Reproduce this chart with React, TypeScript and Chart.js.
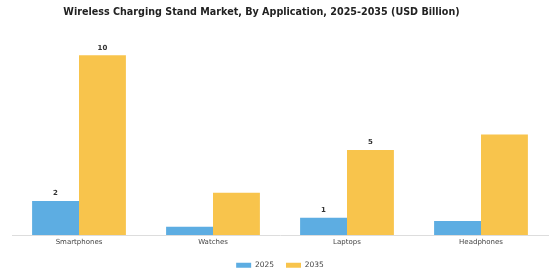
import React, { useEffect, useRef } from "react";
import { Chart, registerables } from "chart.js";

Chart.register(...registerables);

const categories = ["Smartphones", "Watches", "Laptops", "Headphones"];
const values2025 = [1.9, 0.46, 0.96, 0.79];
const values2035 = [10.0, 2.36, 4.73, 5.6];
const showLabel2025 = [true, false, true, false];
const showLabel2035 = [true, false, true, false];
const seriesNames = ["2025", "2035"];
const titleText = "Wireless Charging Stand Market, By Application, 2025-2035 (USD Billion)";

const labelPlugin = {
  id: "barLabels",
  afterDatasetsDraw(chart: any) {
    const ctx = chart.ctx;
    const flags = [showLabel2025, showLabel2035];
    chart.data.datasets.forEach((ds: any, di: number) => {
      const meta = chart.getDatasetMeta(di);
      meta.data.forEach((bar: any, i: number) => {
        if (!flags[di][i]) return;
        ctx.save();
        ctx.font = "bold 7px 'DejaVu Sans'";
        ctx.fillStyle = "#333";
        ctx.textAlign = "center";
        ctx.textBaseline = "bottom";
        ctx.fillText(String(Math.round(ds.data[i])), bar.x, bar.y - 4);
        ctx.restore();
      });
    });
  },
};

const titlePlugin = {
  id: "customTitle",
  afterDraw(chart: any) {
    const ctx = chart.ctx;
    ctx.save();
    ctx.font = "bold 9.6px 'DejaVu Sans'";
    ctx.fillStyle = "#222";
    ctx.textAlign = "center";
    ctx.textBaseline = "middle";
    ctx.fillText(titleText, 261.5, 12);
    ctx.restore();
  },
};

export default function App() {
  const ref = useRef<HTMLCanvasElement>(null);
  useEffect(() => {
    const chart = new Chart(ref.current!, {
      type: "bar",
      data: {
        labels: categories,
        datasets: [
          { label: seriesNames[0], data: values2025, backgroundColor: "#5DADE2", categoryPercentage: 0.7, barPercentage: 1.0 },
          { label: seriesNames[1], data: values2035, backgroundColor: "#F8C44C", categoryPercentage: 0.7, barPercentage: 1.0 },
        ],
      },
      options: {
        responsive: false,
        animation: false,
        layout: { padding: { left: 12, right: 12, top: 40, bottom: 1 } },
        plugins: {
          title: { display: false },
          legend: {
            position: "bottom",
            labels: {
              font: { family: "'DejaVu Sans'", size: 7.5 },
              color: "#444",
              boxWidth: 15,
              boxHeight: 5,
              padding: 12,
            },
          },
          tooltip: { enabled: false },
        },
        scales: {
          x: {
            grid: { display: false, drawTicks: false },
            border: { color: "#ddd" },
            ticks: { font: { family: "'DejaVu Sans'", size: 7 }, color: "#444", padding: 3 },
          },
          y: {
            display: false,
            min: 0,
            max: 10.85,
          },
        },
      },
      plugins: [labelPlugin, titlePlugin],
    });
    return () => chart.destroy();
  }, []);
  return (
    <div style={{ position: "absolute", left: 0, top: 0, width: 560, height: 280, background: "#fff" }}>
      <canvas ref={ref} width={560} height={280} />
    </div>
  );
}
